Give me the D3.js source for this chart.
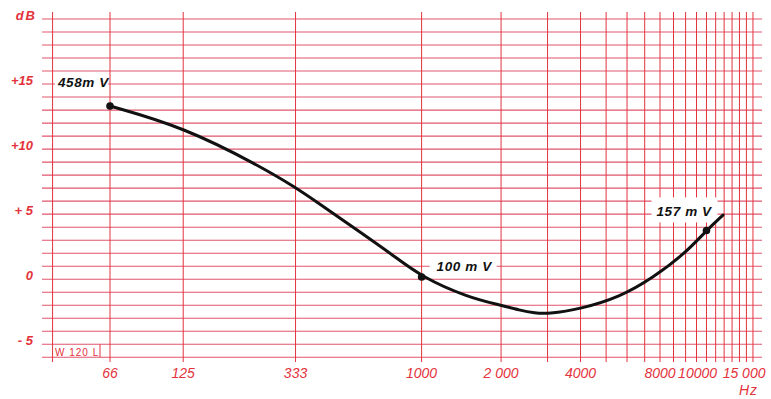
<!DOCTYPE html>
<html>
<head>
<meta charset="utf-8">
<script src="https://cdn.jsdelivr.net/npm/d3@7"></script>
<style>
  body { margin: 0; background: #fff; }
  svg { display: block; }
</style>
</head>
<body>
<div id="chart"></div>
<script>
// valori (risposta in frequenza)
var freqs = [66, 125, 244, 333, 391, 584, 779, 1000, 1500, 2000, 2350, 2690, 3000, 4000, 5640, 7500, 10000, 12000, 13860];
var levels = [13.31, 11.7, 8.7, 7.05, 6.09, 3.63, 1.85, 0.17, -1.4, -2.0, -2.38, -2.6, -2.67, -2.29, -1.37, 0.09, 2.01, 3.75, 4.93];

// punti marcati con le tensioni
var markFreqs = [66, 1000, 12000];
var markLevels = [13.31, 0.17, 3.75];
var markTexts = ["458m V", "100 m V", "157 m V"];

// griglia
var gridFreqs = [40, 66, 125, 333, 1000, 2000, 3000, 4000, 5000, 6000, 7000, 8000, 9000, 10000,
  11000, 12000, 13000, 14000, 15000, 16000, 17000, 18000];
var gridLevels = d3.range(-6, 21);

// etichette assi
var xTickValues = [66, 125, 333, 1000, 2000, 4000, 8000, 10000, 15000];
var xTickLabels = ["66", "125", "333", "1000", "2 000", "4000", "8000", "10000", "15 000"];
var yTickValues = [15, 10, 5, 0, -5];
var yTickLabels = ["+15", "+10", "+ 5", "0", "- 5"];

var width = 771, height = 399;
var red = "#e4323c";
var font = "Liberation Sans, Arial, sans-serif";

var svg = d3.select("#chart").append("svg")
  .attr("width", width)
  .attr("height", height);

var x = d3.scaleLog().domain([66, 8000]).range([110, 660]);
var y = d3.scaleLinear().domain([-6, 20]).range([357.3, 19]);

// linee orizzontali
svg.append("g").selectAll("line")
  .data(gridLevels)
  .enter()
  .append("line")
  .attr("x1", 42)
  .attr("x2", 762)
  .attr("y1", (d) => y(d))
  .attr("y2", (d) => y(d))
  .attr("stroke", "#e2566e")
  .attr("stroke-width", 1.1);

// linee verticali
svg.append("g").selectAll("line")
  .data(gridFreqs)
  .enter()
  .append("line")
  .attr("x1", (d) => x(d))
  .attr("x2", (d) => x(d))
  .attr("y1", 12)
  .attr("y2", 362)
  .attr("stroke", "#e3343e")
  .attr("stroke-width", 1);

// riquadro "W 120 L"
svg.append("line")
  .attr("x1", 100).attr("x2", 100)
  .attr("y1", y(-5)).attr("y2", y(-6))
  .attr("stroke", "#e3343e");
svg.append("text")
  .attr("x", 55)
  .attr("y", 356)
  .attr("font-family", font)
  .attr("font-size", "10px")
  .attr("letter-spacing", "1px")
  .attr("fill", red)
  .text("W 120 L");

// etichette asse y
svg.append("g").selectAll("text")
  .data(yTickValues)
  .enter()
  .append("text")
  .attr("x", 33)
  .attr("y", (d) => y(d) + 1)
  .attr("text-anchor", "end")
  .attr("font-family", font)
  .attr("font-style", "italic")
  .attr("font-weight", "bold")
  .attr("font-size", "13px")
  .attr("fill", red)
  .text((d, i) => yTickLabels[i]);

svg.append("text")
  .attr("x", 37)
  .attr("y", 20)
  .attr("text-anchor", "end")
  .attr("font-family", font)
  .attr("font-style", "italic")
  .attr("font-weight", "bold")
  .attr("font-size", "13px")
  .attr("letter-spacing", "2px")
  .attr("fill", red)
  .text("dB");

// etichette asse x
svg.append("g").selectAll("text")
  .data(xTickValues)
  .enter()
  .append("text")
  .attr("x", (d) => x(d) + (d >= 10000 ? 12 : 0))
  .attr("y", 378)
  .attr("text-anchor", "middle")
  .attr("font-family", font)
  .attr("font-style", "italic")
  .attr("font-size", "14px")
  .attr("fill", red)
  .text((d, i) => xTickLabels[i]);

svg.append("text")
  .attr("x", 758)
  .attr("y", 395)
  .attr("text-anchor", "end")
  .attr("font-family", font)
  .attr("font-style", "italic")
  .attr("font-size", "14px")
  .attr("letter-spacing", "1px")
  .attr("fill", red)
  .text("Hz");

// etichette dei punti con sfondo bianco
var labelBox = [
  { dx: -55, dy: -30, w: 53, h: 17, tx: -52, ty: -19 },
  { dx: 8, dy: -22, w: 67, h: 19, tx: 15, ty: -6 },
  { dx: -55, dy: -33, w: 66, h: 25, tx: -50, ty: -14 }
];
var labels = svg.append("g").selectAll("g")
  .data(markFreqs)
  .enter()
  .append("g")
  .attr("transform", (d, i) => `translate(${x(d)},${y(markLevels[i])})`);

labels.append("rect")
  .attr("x", (d, i) => labelBox[i].dx)
  .attr("y", (d, i) => labelBox[i].dy)
  .attr("width", (d, i) => labelBox[i].w)
  .attr("height", (d, i) => labelBox[i].h)
  .attr("fill", "#fff");

labels.append("text")
  .attr("x", (d, i) => labelBox[i].tx)
  .attr("y", (d, i) => labelBox[i].ty)
  .attr("font-family", font)
  .attr("font-style", "italic")
  .attr("font-weight", "bold")
  .attr("font-size", "13.5px")
  .attr("letter-spacing", "0.6px")
  .attr("fill", "#111")
  .text((d, i) => markTexts[i]);

// curva (spline per una linea morbida come nel disegno)
var line = d3.line()
  .x((d) => x(d[0]))
  .y((d) => y(d[1]))
  .curve(d3.curveBasis);

svg.append("path")
  .datum(freqs.map((f, i) => [f, levels[i]]))
  .attr("d", line)
  .attr("fill", "none")
  .attr("stroke", "#111")
  .attr("stroke-width", 3)
  .attr("stroke-linecap", "round");

svg.append("g").selectAll("circle")
  .data(markFreqs)
  .enter()
  .append("circle")
  .attr("cx", (d) => x(d))
  .attr("cy", (d, i) => y(markLevels[i]))
  .attr("r", 3.8)
  .attr("fill", "#111");
</script>
</body>
</html>
